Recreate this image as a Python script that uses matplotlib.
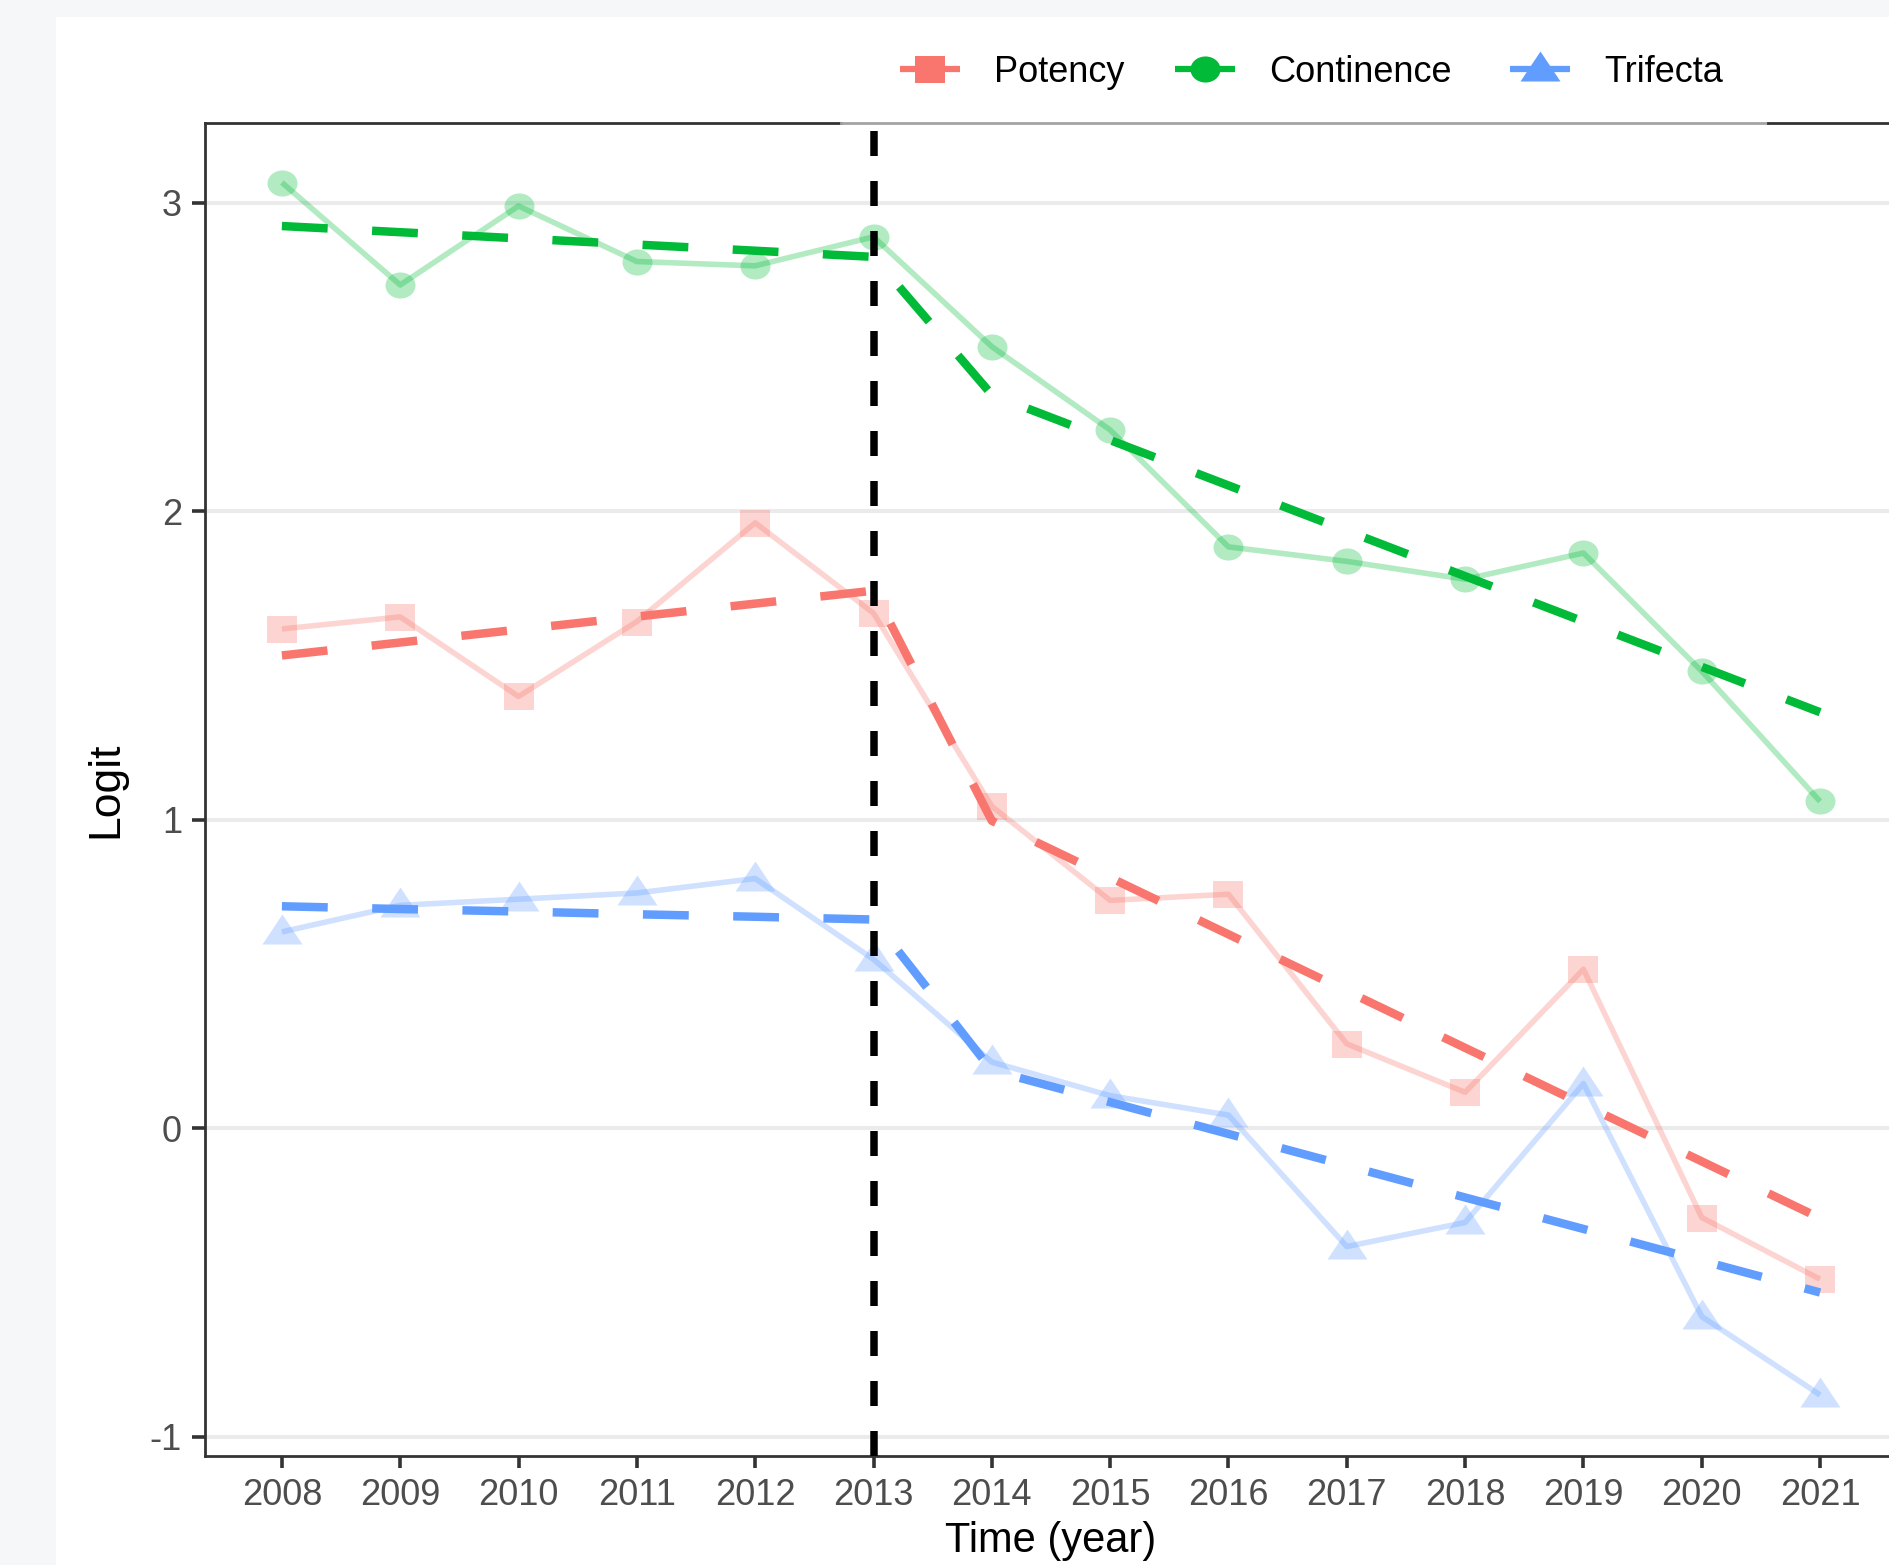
import matplotlib
matplotlib.use('Agg')
import matplotlib.pyplot as plt
from matplotlib.path import Path
from matplotlib.lines import Line2D
from matplotlib.patches import Rectangle

plt.rcParams['font.family'] = ['Liberation Sans', 'DejaVu Sans']
plt.rcParams['lines.scale_dashes'] = False

# ---------------- data ----------------
years = [2008, 2009, 2010, 2011, 2012, 2013, 2014, 2015, 2016, 2017, 2018, 2019, 2020, 2021]
year_labels = [str(y) for y in years]

potency_obs = [1.619, 1.658, 1.40, 1.643, 1.963, 1.67, 1.044, 0.739, 0.759, 0.274, 0.117, 0.516, -0.289, -0.489]
potency_fit = [1.533, 1.575, 1.617, 1.659, 1.701, 1.743, 0.997, 0.813, 0.629, 0.445, 0.261, 0.077, -0.107, -0.291]

continence_obs = [3.066, 2.734, 2.99, 2.81, 2.796, 2.89, 2.534, 2.264, 1.885, 1.838, 1.78, 1.865, 1.482, 1.06]
continence_fit = [2.925, 2.905, 2.885, 2.865, 2.845, 2.825, 2.378, 2.231, 2.084, 1.937, 1.790, 1.643, 1.496, 1.349]

trifecta_obs = [0.637, 0.723, 0.743, 0.763, 0.81, 0.548, 0.215, 0.106, 0.043, -0.383, -0.305, 0.145, -0.61, -0.864]
trifecta_fit = [0.720, 0.711, 0.703, 0.694, 0.686, 0.677, 0.188, 0.085, -0.018, -0.121, -0.224, -0.326, -0.429, -0.532]

series_names = ['Potency', 'Continence', 'Trifecta']
series_colors = ['#F8766D', '#00BA38', '#619CFF']
intervention_year = 2013
y_ticks = [-1, 0, 1, 2, 3]
y_tick_labels = ['-1', '0', '1', '2', '3']

# ---------------- markers ----------------
sq = Path([(-15, -13.5), (15, -13.5), (15, 13.5), (-15, 13.5), (-15, -13.5)], closed=True)
uc = Path.unit_circle()
circ = Path(uc.vertices * [1.0, 0.87], uc.codes)
tri = Path([(0, 18), (-20, -12), (20, -12), (0, 18)], closed=True)
markers = [sq, circ, tri]
msizes = [21.6, 21.6, 28.8]

W, H = 1890, 1565
fig = plt.figure(figsize=(W / 100, H / 100), dpi=100, facecolor='#f5f7f9')
fig.add_artist(Rectangle((56 / W, 0), 1 - 56 / W, 1 - 17 / H, transform=fig.transFigure,
                         facecolor='white', edgecolor='none', zorder=-5))

ax = fig.add_axes([205 / W, (H - 1456) / H, 1692 / W, 1333 / H])
ax.set_xlim(2007.35, 2021.65)
ax.set_ylim(-1.062, 3.259)

obs = [potency_obs, continence_obs, trifecta_obs]
fits = [potency_fit, continence_fit, trifecta_fit]

for o, c, m, ms in zip(obs, series_colors, markers, msizes):
    ax.plot(years, o, color=c, alpha=0.3, lw=4, solid_capstyle='butt', zorder=2)
    ax.plot(years, o, ls='none', marker=m, ms=ms, mew=0, color=c, alpha=0.3, zorder=2)
for f, c in zip(fits, series_colors):
    ax.plot(years, f, color=c, lw=6.1, ls=(0, (33, 32)), dash_capstyle='butt', zorder=3)

ax.axvline(intervention_year, color='black', lw=5.4, ls=(0, (18, 18)), zorder=4)

# grid & ticks
ax.set_yticks(y_ticks)
ax.set_yticklabels(y_tick_labels)
ax.set_xticks(years)
ax.set_xticklabels(year_labels)
ax.yaxis.grid(True, color='#ebebeb', lw=2.9)
ax.xaxis.grid(False)
ax.set_axisbelow(True)
ax.tick_params(axis='x', length=8.6, width=2.6, color='#333333', pad=7.0,
               labelsize=26, labelcolor='#4d4d4d')
ax.tick_params(axis='y', length=9.6, width=2.6, color='#333333', pad=7.0,
               labelsize=26, labelcolor='#4d4d4d')

for s in ['left', 'bottom', 'right']:
    ax.spines[s].set_linewidth(2)
    ax.spines[s].set_color('#333333')
ax.spines['top'].set_visible(False)
xa = (841 - 205) / 1692
xb = (1768 - 205) / 1692
ax.plot([0, xa], [1, 1], transform=ax.transAxes, color='#333333', lw=2, clip_on=False, zorder=5)
ax.plot([xa, xb], [1, 1], transform=ax.transAxes, color='#a3a3a3', lw=2, clip_on=False, zorder=5)
ax.plot([xb, 1], [1, 1], transform=ax.transAxes, color='#333333', lw=2, clip_on=False, zorder=5)

# axis titles
ax.set_xlabel('Time (year)', fontsize=30, color='black')
ax.xaxis.label.set_va('baseline')
ax.xaxis.set_label_coords(0.5, -96 / 1333)
ax.set_ylabel('Logit', fontsize=32, color='black')
ax.yaxis.label.set_va('baseline')
ax.yaxis.set_label_coords(-88 / 1692, 0.5)

# legend
legend_x = [900, 1175, 1510]
for name, c, m, ms, lx in zip(series_names, series_colors, markers, msizes, legend_x):
    h = Line2D([], [], color=c, lw=4.5, marker=m, ms=ms, mew=0, solid_capstyle='butt')
    fig.legend([h], [name], loc='center left', bbox_to_anchor=(lx / W, 1 - 72 / H),
               bbox_transform=fig.transFigure, frameon=False, fontsize=26,
               handlelength=1.66, handletextpad=0.94, borderpad=0, borderaxespad=0,
               numpoints=1)

fig.savefig('out.png', dpi=100, facecolor=fig.get_facecolor())
